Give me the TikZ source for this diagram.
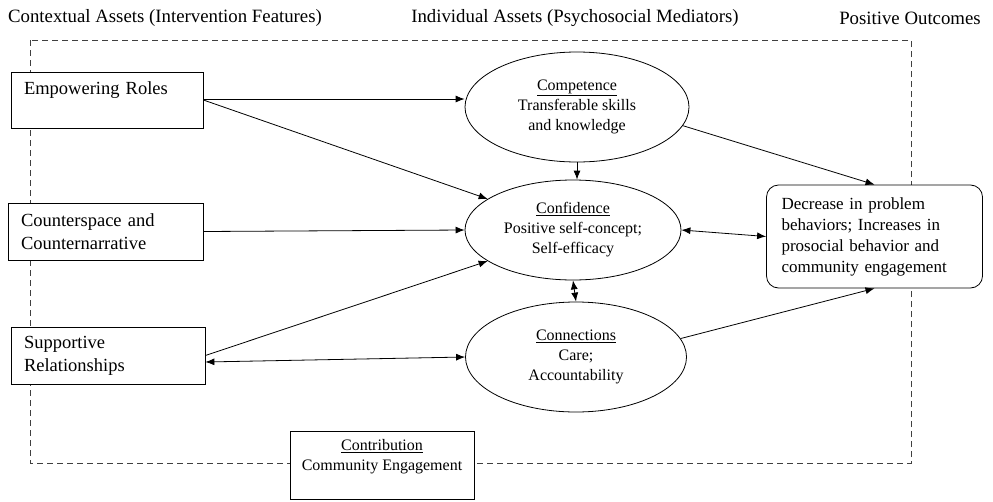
\documentclass[tikz,border=0pt]{standalone}
\usepackage{fontspec}
\setmainfont{Liberation Serif}
\usepackage{tikz}
\usetikzlibrary{arrows.meta,shapes.geometric}

\begin{document}
\begin{tikzpicture}[x=1pt,y=-1pt,
  every node/.style={font=\fontsize{16}{20}\selectfont, inner sep=0pt},
  asset/.style={draw, thick, fill=white, align=left, text width=#1, inner xsep=13pt,
    font=\fontsize{18.5}{23}\selectfont},
  mediator/.style={draw, thick, ellipse, fill=white, align=center},
  outcome/.style={draw, thick, rounded corners=12pt, fill=white, align=left,
    text width=186pt, inner xsep=15pt, minimum height=103pt,
    font=\fontsize{17}{21}\selectfont},
  link/.style={thick, -{Latex[length=9pt,width=7pt]}},
  both/.style={thick, {Latex[length=9pt,width=7pt]}-{Latex[length=9pt,width=7pt]}}]
  \useasboundingbox (0,0) rectangle (993,501);

  % column titles
  \node[font=\fontsize{18.8}{22}\selectfont] (ctx) at (165,18) {Contextual Assets (Intervention Features)};
  \node[font=\fontsize{18.8}{22}\selectfont] (ind) at (575,18) {Individual Assets (Psychosocial Mediators)};
  \node[font=\fontsize{18.8}{22}\selectfont] (pos) at (910,18) {Positive Outcomes};

  % dashed frame
  \draw[thick, dash pattern=on 6pt off 4pt, black!75] (30,40) rectangle (911,463);

  % contextual assets
  \node[asset=166pt, minimum height=56pt] (emp) at (107,100) {Empowering Roles\\ \mbox{}};
  \node[asset=169pt, minimum height=57pt] (csp) at (105.5,231.5) {Counterspace and\\ Counternarrative};
  \node[asset=168pt, minimum height=57pt] (sup) at (108,355.5) {Supportive\\ Relationships};
  \node[draw, thick, fill=white, align=center, minimum width=184pt, minimum height=68pt] (con) at (382,465)
    {\underline{Contribution}\\ Community Engagement\\ \mbox{}};

  % individual assets
  \node[mediator, minimum width=224pt, minimum height=110pt] (comp) at (577,107)
    {\underline{Competence}\\ Transferable skills\\ and knowledge};
  \node[mediator, minimum width=216pt, minimum height=100pt] (conf) at (573,230)
    {\underline{Confidence}\\ Positive self-concept;\\ Self-efficacy};
  \node[mediator, minimum width=221pt, minimum height=110pt] (conn) at (576,357)
    {\underline{Connections}\\ Care;\\ Accountability};

  % positive outcomes
  \node[outcome] (out) at (874.5,236.5)
    {Decrease in problem\\ behaviors; Increases in\\ prosocial behavior and\\ community engagement};

  % paths
  \draw[link] (emp.east |- 0,99) -- (comp.west |- 0,99);
  \draw[link] (emp.east) -- (conf.160);
  \draw[link] (csp.east) -- (conf.west);
  \draw[link] (sup.east) -- (conf.200);
  \draw[both] (sup.east |- 0,362) -- (conn.west);
  \draw[link] (comp.south) -- (comp.south |- conf.north);
  \draw[both] (conf.south) -- (conn.north);
  \draw[both] (conf.east) -- (out.west);
  \draw[link] (comp.350) -- (out.north);
  \draw[link] (conn.10) -- (out.south);
\end{tikzpicture}
\end{document}
